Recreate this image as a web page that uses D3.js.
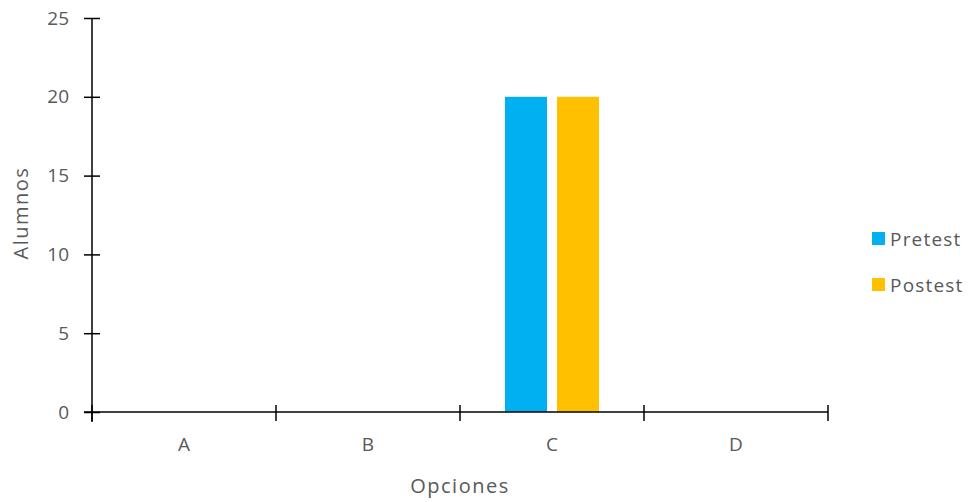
<!DOCTYPE html>
<html>
<head>
<meta charset="utf-8">
<script src="https://cdn.jsdelivr.net/npm/d3@7"></script>
<style>
  body { margin: 0; background: #fff; }
  svg text { font-family: "Open Sans", "Liberation Sans", sans-serif; fill: #595959; }
</style>
</head>
<body>
<svg id="chart" width="970" height="502"></svg>
<script>
// Answers per option
const categories = ["A", "B", "C", "D"];
const seriesNames = ["Pretest", "Postest"];
const pretest = [0, 0, 20, 0];
const postest = [0, 0, 20, 0];
const yTicks = [0, 5, 10, 15, 20, 25];
const colors = ["#00B0F0", "#FFC000"];

const svg = d3.select("#chart");
const plot = { left: 92, right: 828, top: 18, bottom: 412 };

const x = d3.scaleBand().domain(categories).range([plot.left, plot.right]).paddingInner(0).paddingOuter(0);
const y = d3.scaleLinear().domain([0, 25]).range([plot.bottom, plot.top]);

const sub = d3.scaleBand().domain(seriesNames).range([0, x.bandwidth()]).paddingInner(0.192).paddingOuter(0.865);

const rows = categories.map((c, i) => ({ cat: c, values: [pretest[i], postest[i]] }));

// Bars
const g = svg.append("g");
rows.forEach(r => {
  r.values.forEach((v, j) => {
    if (v <= 0) return;
    g.append("rect")
      .attr("x", x(r.cat) + sub(seriesNames[j]))
      .attr("y", y(v))
      .attr("width", sub.bandwidth())
      .attr("height", y(0) - y(v))
      .attr("fill", colors[j]);
  });
});

// Y axis
const yAxis = svg.append("g").attr("transform", `translate(${plot.left},0)`)
  .call(d3.axisLeft(y).tickValues(yTicks).tickSize(0).tickPadding(23));
yAxis.select(".domain").remove();
yAxis.append("line").attr("x1", 0).attr("x2", 0).attr("y1", plot.top).attr("y2", plot.bottom + 10)
  .attr("stroke", "#000").attr("stroke-width", 1.5);
yAxis.selectAll(".tick").append("line").attr("x1", -8).attr("x2", 8)
  .attr("stroke", "#000").attr("stroke-width", 1.5);
yAxis.selectAll(".tick text").attr("font-size", 19).style("fill", "#595959");

// X axis
const xAxis = svg.append("g").attr("transform", `translate(0,${plot.bottom})`)
  .call(d3.axisBottom(x).tickSize(0).tickPadding(26));
xAxis.select(".domain").remove();
xAxis.append("line").attr("x1", plot.left - 8).attr("x2", plot.right).attr("y1", 0).attr("y2", 0)
  .attr("stroke", "#000").attr("stroke-width", 1.5);
const bounds = categories.map(c => x(c)).concat([plot.right]);
xAxis.selectAll(".bound").data(bounds).enter().append("line")
  .attr("x1", d => d).attr("x2", d => d).attr("y1", -7).attr("y2", 9)
  .attr("stroke", "#000").attr("stroke-width", 1.5);
xAxis.selectAll(".tick text").attr("font-size", 19).style("fill", "#595959");

// Axis titles
svg.append("text").attr("x", 460).attr("y", 493).attr("text-anchor", "middle")
  .attr("font-size", 20).attr("letter-spacing", 1.5).text("Opciones");
svg.append("text").attr("transform", "translate(28,213) rotate(-90)").attr("text-anchor", "middle")
  .attr("font-size", 20).attr("letter-spacing", 1.5).text("Alumnos");

// Legend
const legend = svg.append("g");
seriesNames.forEach((s, i) => {
  const ly = 239 + i * 46;
  legend.append("rect").attr("x", 872).attr("y", ly - 7).attr("width", 13).attr("height", 13).attr("fill", colors[i]);
  legend.append("text").attr("x", 890).attr("y", ly + 7).attr("font-size", 19)
    .attr("letter-spacing", 1.2).text(s);
});
</script>
</body>
</html>
